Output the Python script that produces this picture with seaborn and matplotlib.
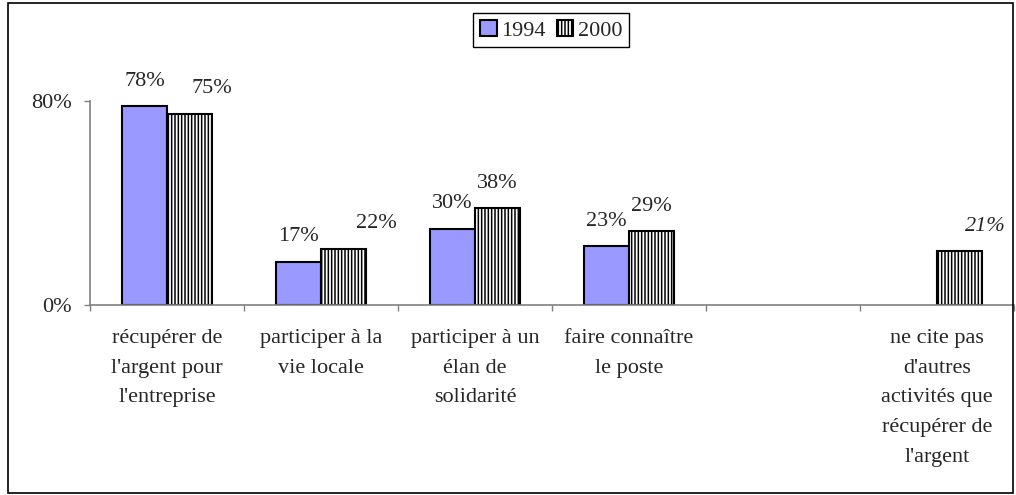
import numpy as np
import pandas as pd
import matplotlib
matplotlib.use("Agg")
import matplotlib.pyplot as plt
from matplotlib.patches import Rectangle
from matplotlib.ticker import FixedLocator
import seaborn as sns

# données
categories = [
    "récupérer de\nl'argent pour\nl'entreprise",
    "participer à la\nvie locale",
    "participer à un\nélan de\nsolidarité",
    "faire connaître\nle poste",
    " ",
    "ne cite pas\nd'autres\nactivités que\nrécupérer de\nl'argent",
]
years = ["1994", "2000"]
values_1994 = [78, 17, 30, 23, None, None]
values_2000 = [75, 22, 38, 29, None, 21]
ytick_values = [0, 80]
ytick_labels = ["0%", "80%"]

rows = []
for cat, v94, v00 in zip(categories, values_1994, values_2000):
    if v94 is not None:
        rows.append({"categorie": cat, "annee": "1994", "valeur": v94})
    if v00 is not None:
        rows.append({"categorie": cat, "annee": "2000", "valeur": v00})
df = pd.DataFrame(rows)

sns.set_style("white")
plt.rcParams["font.family"] = ["Liberation Serif", "DejaVu Serif"]
plt.rcParams["hatch.linewidth"] = 1.1
plt.rcParams["hatch.color"] = "#a6a6a6"

FS = 16

fig = plt.figure(figsize=(10.16, 4.95), dpi=100)
ax = fig.add_axes([90 / 1016, 190 / 495, 924 / 1016, 204 / 495])

sns.barplot(data=df, x="categorie", y="valeur", hue="annee",
            order=categories, hue_order=years,
            palette={"1994": "#9999FF", "2000": "#ffffff"},
            width=0.58, errorbar=None, edgecolor="black", linewidth=1.5,
            saturation=1, ax=ax)

# hachures verticales pour 2000
for bar in ax.containers[1]:
    bar.set_hatch("|||||")

ax.set_xlim(-0.5, len(categories) - 0.5)
ax.set_ylim(0, 80)
ax.set_xlabel("")
ax.set_ylabel("")

# étiquettes de valeurs (décalages horizontaux en points, comme dans l'original)
dx_1994 = [0, 0, 0, 0]
dx_2000 = [16, 24, 0, 0, 19]
for bar, v, dx in zip(ax.containers[0], [v for v in values_1994 if v is not None], dx_1994):
    ax.annotate(f"{v}%", (bar.get_x() + bar.get_width() / 2, bar.get_height()),
                xytext=(dx, 18), textcoords="offset points", ha="center", va="center",
                fontsize=FS, annotation_clip=False)
vals00 = [v for v in values_2000 if v is not None]
for i, (bar, v, dx) in enumerate(zip(ax.containers[1], vals00, dx_2000)):
    style = "italic" if i == len(vals00) - 1 else "normal"
    ax.annotate(f"{v}%", (bar.get_x() + bar.get_width() / 2, bar.get_height()),
                xytext=(dx, 18), textcoords="offset points", ha="center", va="center",
                fontsize=FS, fontstyle=style, annotation_clip=False)

# axes
for side in ["top", "right"]:
    ax.spines[side].set_visible(False)
for side in ["left", "bottom"]:
    ax.spines[side].set_color("#808080")
    ax.spines[side].set_linewidth(1.2)

ax.set_yticks(ytick_values)
ax.set_yticklabels(ytick_labels, fontsize=FS)
ax.tick_params(axis="y", direction="out", length=4, width=1, color="#808080", pad=9, left=True)

ax.set_xticks(range(len(categories)))
ax.set_xticklabels(categories, fontsize=FS, linespacing=1.78, va="top")
ax.xaxis.set_minor_locator(FixedLocator(np.arange(-0.5, len(categories), 1.0)))
ax.tick_params(axis="x", which="major", length=0, pad=17)
ax.tick_params(axis="x", which="minor", direction="out", length=4, width=1,
               color="#808080", bottom=True)

# légende
ax.get_legend().remove()
handles = [ax.containers[0][0], ax.containers[1][0]]
leg = fig.legend(handles, years, loc="upper center", bbox_to_anchor=(551 / 1016, 1 - 13 / 495),
                 ncol=2, fontsize=FS, frameon=True, fancybox=False, framealpha=1,
                 edgecolor="black", handlelength=0.75, handleheight=0.75,
                 handletextpad=0.2, columnspacing=0.5, borderpad=0.3, borderaxespad=0)
leg.get_frame().set_linewidth(1.0)

# cadre extérieur
fig.add_artist(Rectangle((8 / 1016, 2 / 495), 1005 / 1016, 490 / 495,
                         transform=fig.transFigure, fill=False,
                         edgecolor="black", linewidth=1.2))

fig.savefig("out.png", dpi=100)
